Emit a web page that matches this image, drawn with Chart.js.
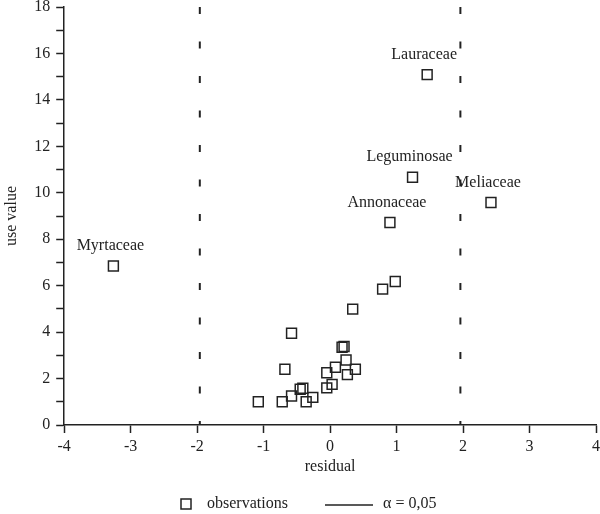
<!DOCTYPE html>
<html>
<head>
<meta charset="utf-8">
<script src="https://cdn.jsdelivr.net/npm/chart.js@4"></script>
<style>
  body { margin: 0; background: #fff; }
  #wrap { width: 600px; height: 514px; }
</style>
</head>
<body>
<div id="wrap"><canvas id="residualChart"></canvas></div>
<script>
// residuals vs use value per plant family
const residuals = [-3.26, 0.90, 1.24, 1.46, 2.42,
  -1.08, -0.72, -0.58, -0.68, -0.58, -0.45, -0.41, -0.36, -0.26, -0.05, -0.05,
  0.03, 0.08, 0.18, 0.21, 0.24, 0.26, 0.38, 0.34, 0.79, 0.98];
const useValues = [6.85, 8.72, 10.67, 15.09, 9.58,
  1.0, 1.0, 1.25, 2.4, 3.95, 1.54, 1.58, 1.0, 1.19, 2.25, 1.6,
  1.75, 2.49, 3.35, 3.38, 2.8, 2.17, 2.4, 4.99, 5.85, 6.18];
const familyNames = ['Myrtaceae', 'Annonaceae', 'Leguminosae', 'Lauraceae', 'Meliaceae'];

const critical = 1.96;      // alpha = 0,05
const yRange = [0, 18];

const fontFamily = '"Liberation Serif", "Times New Roman", serif';
const ink = '#222';

// family names above the first points
const familyLabels = {
  id: 'familyLabels',
  afterDatasetsDraw(chart) {
    const { ctx, scales } = chart;
    ctx.save();
    ctx.font = '16px ' + fontFamily;
    ctx.fillStyle = ink;
    ctx.textAlign = 'center';
    ctx.textBaseline = 'middle';
    familyNames.forEach((name, i) => {
      const px = scales.x.getPixelForValue(residuals[i]);
      const py = scales.y.getPixelForValue(useValues[i]);
      ctx.fillText(name, px - 3, py - 20);
    });
    ctx.restore();
  }
};

// legend under the axis title
const bottomLegend = {
  id: 'bottomLegend',
  afterDraw(chart) {
    const ctx = chart.ctx;
    const y = 504;
    ctx.save();
    ctx.strokeStyle = ink;
    ctx.lineWidth = 1.5;
    ctx.strokeRect(181, y - 5, 10, 10);
    ctx.beginPath();
    ctx.moveTo(325, y + 1);
    ctx.lineTo(373, y + 1);
    ctx.stroke();
    ctx.font = '16px ' + fontFamily;
    ctx.fillStyle = ink;
    ctx.textBaseline = 'middle';
    ctx.fillText('observations', 207, y);
    ctx.fillText('\u03b1 = 0,05', 383, y);
    ctx.restore();
  }
};

const axisGrid = {
  drawOnChartArea: false,
  drawTicks: true,
  tickLength: 8,
  tickWidth: 1.5,
  tickColor: ink,
  color: ink
};

// critical lines drawn top to bottom so the dash pattern starts at the top
const criticalLine = xv => ({
  type: 'line',
  data: [{ x: xv, y: yRange[1] }, { x: xv, y: yRange[0] }],
  borderColor: ink,
  borderWidth: 2,
  borderDash: [7, 27.5],
  pointRadius: 0
});

new Chart(document.getElementById('residualChart'), {
  type: 'scatter',
  data: {
    datasets: [{
      label: 'observations',
      data: residuals.map((r, i) => ({ x: r, y: useValues[i] })),
      pointStyle: 'rect',
      pointRadius: 7,
      pointHoverRadius: 7,
      borderColor: ink,
      backgroundColor: 'rgba(0,0,0,0)',
      borderWidth: 1.5
    },
    Object.assign({ label: 'lower' }, criticalLine(-critical)),
    Object.assign({ label: 'upper' }, criticalLine(critical))]
  },
  options: {
    responsive: true,
    maintainAspectRatio: false,
    animation: false,
    layout: { padding: 0, autoPadding: false },
    plugins: {
      legend: { display: false },
      tooltip: { enabled: false }
    },
    scales: {
      x: {
        type: 'linear',
        min: -4,
        max: 4,
        grid: axisGrid,
        border: { display: true, color: ink, width: 1.5 },
        afterFit(scale) {
          scale.paddingLeft = 0;
          scale.paddingRight = 4;
        },
        ticks: {
          stepSize: 1,
          color: ink,
          padding: 6,
          font: { family: fontFamily, size: 16, lineHeight: 1 }
        },
        title: {
          display: true,
          text: 'residual',
          color: ink,
          font: { family: fontFamily, size: 16, lineHeight: 1 },
          padding: { top: -2, bottom: 39 }
        }
      },
      y: {
        type: 'linear',
        min: yRange[0],
        max: yRange[1],
        grid: axisGrid,
        border: { display: true, color: ink, width: 1.5 },
        afterFit(scale) {
          scale.paddingTop = 7;
          scale.paddingBottom = 0;
        },
        ticks: {
          stepSize: 1,
          autoSkip: false,
          color: ink,
          padding: 6,
          font: { family: fontFamily, size: 16 },
          callback: v => (v % 2 === 0 ? v : '')
        },
        title: {
          display: true,
          text: 'use value',
          color: ink,
          font: { family: fontFamily, size: 16 },
          padding: { top: 2, bottom: 7 }
        }
      }
    }
  },
  plugins: [familyLabels, bottomLegend]
});
</script>
</body>
</html>
